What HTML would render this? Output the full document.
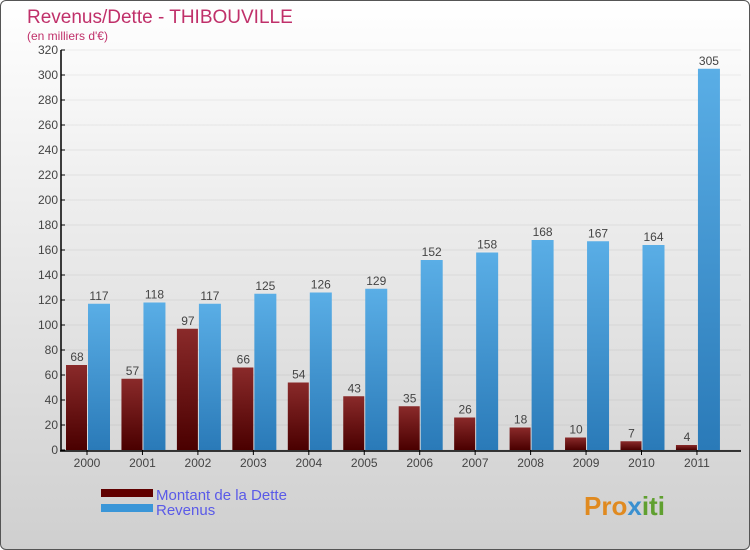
<!DOCTYPE html>
<html><head><meta charset="utf-8"><style>
body{margin:0}
#c{position:relative;width:748px;height:548px;border:1px solid #555;border-radius:6px;overflow:hidden;background:linear-gradient(#ffffff,#cfcfcf);font-family:"Liberation Sans",sans-serif}
</style></head><body>
<div id="c">
<svg id="s" width="748" height="548" xmlns="http://www.w3.org/2000/svg">
<text x="26" y="22" font-size="19" fill="#c0306a">Revenus/Dette - THIBOUVILLE</text>
<text x="26" y="39" font-size="12" fill="#c0306a">(en milliers d'€)</text>
<g id="g"></g>
<rect x="100" y="488" width="52" height="8" fill="#600000"/>
<rect x="100" y="503" width="52" height="8" fill="#3a96d8"/>
<text x="155" y="499" font-size="15" fill="#5a5ae8">Montant de la Dette</text>
<text x="155" y="514" font-size="15" fill="#5a5ae8">Revenus</text>
<text x="583" y="514" font-size="26" font-weight="bold" fill="#e08a20">Pro<tspan fill="#3a90d0">x</tspan><tspan fill="#60a030">iti</tspan></text>
</svg></div>
<script>
const years=["2000","2001","2002","2003","2004","2005","2006","2007","2008","2009","2010","2011"];
const dette=[68,57,97,66,54,43,35,26,18,10,7,4];
const revenus=[117,118,117,125,126,129,152,158,168,167,164,305];
const yTicks=[0,20,40,60,80,100,120,140,160,180,200,220,240,260,280,300,320];
const NS="http://www.w3.org/2000/svg";
const g=document.getElementById('g');
const y=v=>449-v*1.25;
const xc=i=>86+i*55.45;
function el(t,a,txt){const e=document.createElementNS(NS,t);for(const k in a)e.setAttribute(k,a[k]);if(txt!==undefined)e.textContent=txt;g.appendChild(e);return e;}
const defs=el('defs',{});
defs.innerHTML='<linearGradient id="gd" x1="0" y1="0" x2="0" y2="1"><stop offset="0" stop-color="#8a2a2a"/><stop offset="1" stop-color="#4a0000"/></linearGradient><linearGradient id="gr" x1="0" y1="0" x2="0" y2="1"><stop offset="0" stop-color="#5aaee6"/><stop offset="1" stop-color="#2a7ab8"/></linearGradient>';
yTicks.forEach(v=>{
 const l=el('line',{x1:60,x2:740,y1:y(v),y2:y(v),stroke:'#000','stroke-opacity':0.06});
 
 const t=el('line',{x1:60,x2:64,y1:y(v),y2:y(v),stroke:'#000'});
 
 const tx=el('text',{x:57,y:y(v)+4,'font-size':12,fill:'#444','text-anchor':'end'},v);
 
});
years.forEach((yr,i)=>{
 const c=xc(i);
 const b1=el('rect',{x:c-21,y:y(dette[i]),width:21,height:dette[i]*1.25,fill:'url(#gd)'});
 
 const b2=el('rect',{x:c+1,y:y(revenus[i]),width:22,height:revenus[i]*1.25,fill:'url(#gr)'});
 
 const l1=el('text',{x:c-10,y:y(dette[i])-4,'font-size':12,fill:'#444','text-anchor':'middle'},dette[i]);
 
 const l2=el('text',{x:c+12,y:y(revenus[i])-4,'font-size':12,fill:'#444','text-anchor':'middle'},revenus[i]);
 
 const tk=el('line',{x1:c,x2:c,y1:449,y2:454,stroke:'#000'});
 
 const xl=el('text',{x:c,y:466,'font-size':12,fill:'#444','text-anchor':'middle'},yr);
 
});
const ax=el('line',{x1:60,x2:60,y1:49,y2:450,stroke:'#000','stroke-width':1.5});

const bx=el('line',{x1:59,x2:740,y1:450,y2:450,stroke:'#000','stroke-width':1.5});

</script>
</body></html>
